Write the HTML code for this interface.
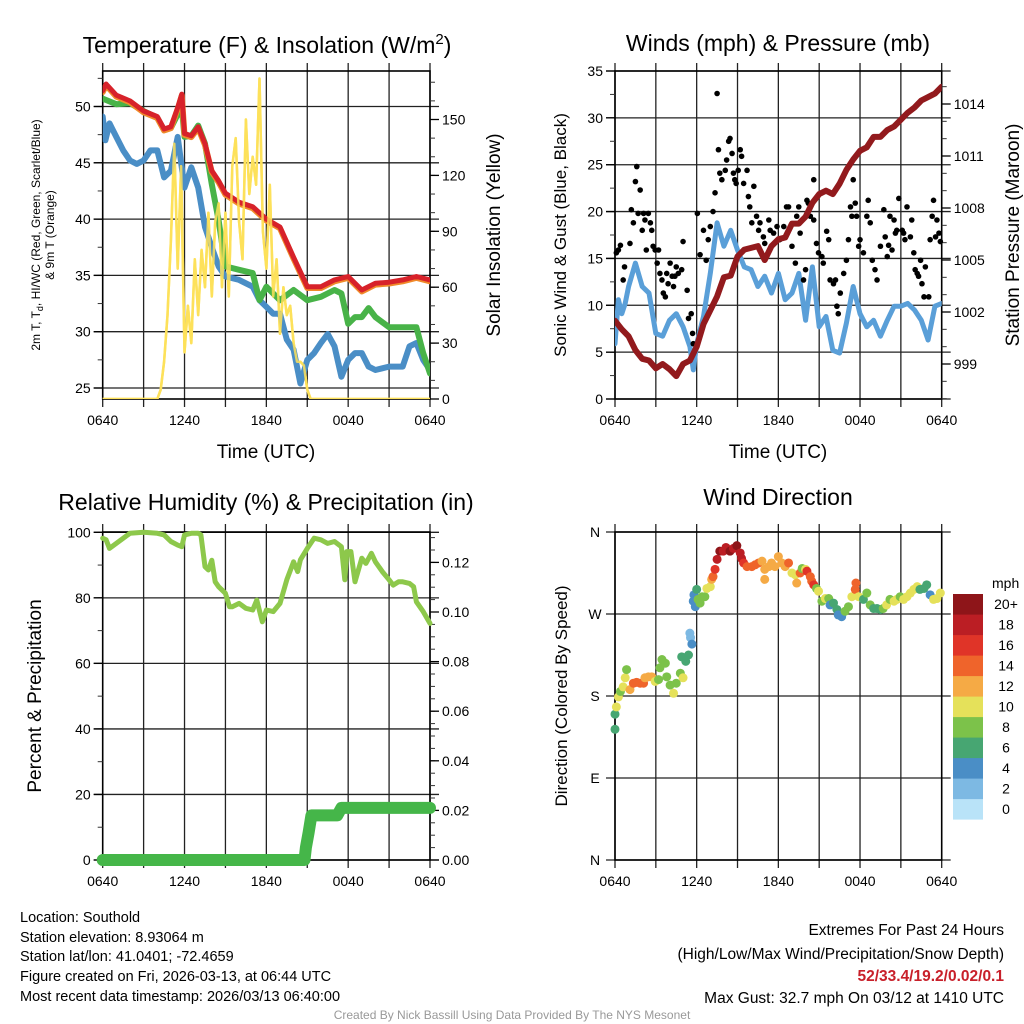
<!DOCTYPE html>
<html><head><meta charset="utf-8"><style>
html,body{margin:0;padding:0;background:#fff;}
svg{display:block;font-family:"Liberation Sans",Arial,sans-serif;}
</style></head><body>
<svg id="chart" width="1024" height="1024" viewBox="0 0 1024 1024" xmlns="http://www.w3.org/2000/svg">
<rect width="1024" height="1024" fill="#fff"/>
<g id="g"></g>
<g font-size="23" text-anchor="middle" fill="#000">
 <text x="267" y="53">Temperature (F) &amp; Insolation (W/m<tspan dy="-9" font-size="15">2</tspan><tspan dy="9">)</tspan></text>
 <text x="778" y="51">Winds (mph) &amp; Pressure (mb)</text>
 <text x="266" y="510">Relative Humidity (%) &amp; Precipitation (in)</text>
 <text x="778" y="505">Wind Direction</text>
</g>
<g font-size="19" text-anchor="middle">
 <text x="266" y="458">Time (UTC)</text>
 <text x="778" y="458">Time (UTC)</text>
 <text transform="translate(500,235) rotate(-90)">Solar Insolation (Yellow)</text>
 <text transform="translate(1019,235) rotate(-90)">Station Pressure (Maroon)</text>
 <text transform="translate(41,696) rotate(-90)">Percent &amp; Precipitation</text>
</g>
<g font-size="17" text-anchor="middle">
 <text transform="translate(566,235) rotate(-90)">Sonic Wind &amp; Gust (Blue, Black)</text>
 <text transform="translate(567,696) rotate(-90)">Direction (Colored By Speed)</text>
</g>
<g font-size="12" text-anchor="middle">
 <text transform="translate(40,235) rotate(-90)">2m T, T<tspan font-size="9" dy="3">d</tspan><tspan dy="-3">, HI/WC (Red, Green, Scarlet/Blue)</tspan></text>
 <text transform="translate(54,235) rotate(-90)">&amp; 9m T (Orange)</text>
</g>
<g font-size="14.5" fill="#000">
 <text x="20" y="922">Location: Southold</text>
 <text x="20" y="942">Station elevation: 8.93064 m</text>
 <text x="20" y="961">Station lat/lon: 41.0401; -72.4659</text>
 <text x="20" y="981">Figure created on Fri, 2026-03-13, at 06:44 UTC</text>
 <text x="20" y="1001">Most recent data timestamp: 2026/03/13 06:40:00</text>
</g>
<g font-size="15.5" text-anchor="end">
 <text x="1004" y="935">Extremes For Past 24 Hours</text>
 <text x="1004" y="959">(High/Low/Max Wind/Precipitation/Snow Depth)</text>
 <text x="1004" y="981" fill="#c8202a" font-weight="bold">52/33.4/19.2/0.02/0.1</text>
 <text x="1004" y="1003">Max Gust: 32.7 mph On 03/12 at 1410 UTC</text>
</g>
<text x="512" y="1019" font-size="12" fill="#999" text-anchor="middle">Created By Nick Bassill Using Data Provided By The NYS Mesonet</text>
</svg>
<script>
// ---------- data ----------
const tempT=[0,0.25,1,2,3,4,4.5,5,5.5,5.8,6,6.5,7,7.5,8,8.5,9,10,11,12,13,14,15,16,17,18,18.5,19,20,21,22,23,24];
const tempV=[51.4,52.0,51.0,50.5,49.6,49.1,48.0,48.2,49.9,51.1,47.6,47.4,48.2,46.7,44.3,43.4,42.3,41.5,41.1,40.0,39.3,36.6,34.0,34.0,34.6,34.9,34.3,33.7,34.3,34.4,34.6,34.9,34.6];
const hiT=[0,1,2,3,4,4.5,5,5.5,5.8,6,6.5,7,7.5,8,8.5,9,10,11,11.5,12,13,14,15,16,17,17.5,18,18.5,19,19.5,20,21,22,23,23.5,24];
const hiV=[50.7,50.2,50.3,49.6,49.0,47.9,48.1,49.3,49.9,47.3,47.4,48.3,46.7,43.1,39.9,35.8,35.5,35.2,32.8,34.0,32.8,33.7,32.8,33.1,33.7,33.4,30.7,31.3,31.3,32.1,31.3,30.4,30.4,30.4,28.1,26.3];
const dewT=[0,0.2,0.5,1,1.5,2,2.5,3,3.5,4,4.5,5,5.5,5.7,6,6.5,7,7.5,8,8.5,9,10,11,11.5,12,12.5,13,13.5,14,14.5,15,15.5,16,16.5,17,17.5,18,18.5,19,19.5,20,21,22,22.5,23,23.5,24];
const dewV=[49.1,47.0,48.5,47.3,46.1,45.2,44.9,45.2,46.1,46.1,43.7,44.3,47.3,45.5,42.8,44.6,42.8,39.3,37.5,35.8,34.9,34.6,34.0,32.8,32.2,31.6,31.6,29.3,28.4,25.4,27.5,28.1,29.0,29.8,28.7,26.0,27.5,28.1,28.1,26.9,26.6,26.9,26.9,28.7,29.0,27.5,26.6];
const solT=[0,4,4.25,4.5,4.75,5,5.25,5.5,5.75,6,6.25,6.5,6.75,7,7.25,7.5,7.75,8,8.25,8.5,8.75,9,9.25,9.5,9.75,10,10.25,10.5,10.75,11,11.25,11.5,11.75,12,12.25,12.5,12.75,13,13.25,13.5,13.75,14,14.25,14.5,14.75,15,15.25,24];
const solV=[0,0,5,20,45,85,137,70,125,25,50,30,75,45,80,60,100,55,95,105,60,100,55,125,140,95,75,150,110,130,115,172,90,70,115,55,75,35,60,45,50,30,20,20,18,5,0,0];
const presT=[0,0.5,1,1.5,2,2.5,3,3.5,4,4.5,5,5.5,6,6.5,7,7.5,8,8.5,9,9.5,10,10.5,11,11.5,12,12.5,13,13.5,14,14.5,15,15.5,16,16.5,17,17.5,18,18.5,19,19.5,20,20.5,21,21.5,22,22.5,23,23.5,24];
const presV=[1001.5,1001.0,1000.6,999.8,999.3,999.2,998.75,999.0,998.7,998.3,999.0,999.2,1000.0,1001.3,1002.1,1002.9,1004.0,1004.1,1005.2,1005.6,1005.7,1005.8,1005.0,1005.8,1006.2,1006.3,1007.1,1007.1,1007.5,1008.3,1008.8,1009.0,1008.8,1009.4,1010.2,1010.8,1011.3,1011.5,1012.1,1012.1,1012.5,1012.7,1013.1,1013.5,1013.8,1014.2,1014.4,1014.6,1015.0];
const windT=[0,0.25,0.5,0.75,1,1.5,2,2.5,3,3.5,4,4.5,5,5.5,5.75,6,6.5,7,7.5,8,8.5,9,9.5,10,10.5,11,11.5,12,12.5,13,13.5,14,14.5,15,15.5,16,16.5,17,17.5,18,18.5,19,19.5,20,20.5,21,21.5,22,22.5,23,23.5,24];
const windV=[5.9,10.6,9.1,10.2,12.0,14.5,12.0,11.3,7.0,6.7,8.4,9.1,7.7,5.6,3.1,5.9,8.8,13.4,18.8,16.3,18.0,15.9,14.1,13.8,12.0,13.1,11.3,13.4,10.6,11.3,13.4,8.4,14.1,7.7,8.8,5.2,4.9,8.1,12.0,9.1,7.7,8.4,6.7,8.4,9.9,9.9,10.2,9.5,8.4,6.3,9.9,10.2];
const gustT=[0.1,0.25,0.4,0.7,0.6,1.1,1.2,1.35,1.5,1.6,1.7,1.85,2.0,2.1,2.2,2.3,2.45,2.6,2.7,2.8,2.95,3.1,3.2,3.3,3.45,3.55,3.7,3.8,3.9,4.05,4.2,4.3,4.4,4.5,4.65,4.9,5.0,5.3,5.4,5.6,5.7,5.75,6.05,6.25,6.5,6.7,6.85,7.0,7.2,7.35,7.5,7.6,7.7,7.85,8.1,8.2,8.35,8.45,8.6,8.7,8.8,8.9,9.05,9.2,9.3,9.45,9.7,9.8,9.9,10.2,10.05,10.4,10.55,10.65,10.9,11.0,11.3,11.4,11.65,11.9,12.1,12.4,12.6,12.75,13.0,13.25,13.35,13.5,13.6,13.85,14.0,14.1,14.2,14.35,14.6,14.6,14.8,14.95,15.2,15.3,15.55,15.7,15.8,16.05,16.2,16.3,16.4,16.55,16.8,17.0,17.15,17.3,17.4,17.5,17.65,17.75,17.9,18.0,18.25,18.5,18.6,18.75,18.9,19.1,19.25,19.5,19.75,19.85,20.0,20.1,20.2,20.35,20.5,20.6,20.7,20.85,21.1,21.2,21.3,21.45,21.7,21.8,21.95,22.05,22.2,22.3,22.45,22.55,22.7,22.8,23.05,23.15,23.3,23.4,23.55,23.65,23.8,23.9];
const gustV=[15.6,15.9,16.4,14.1,12.7,16.6,20.2,18.8,23.2,24.8,19.8,22.3,18.0,19.8,19.1,15.9,19.8,18.8,18.0,16.3,15.9,14.5,15.9,13.4,12.7,11.3,10.9,13.4,12.3,14.5,13.1,12.0,13.1,14.1,13.4,13.8,16.8,11.6,8.6,9.1,7.0,5.9,19.8,15.4,18.0,14.8,17.0,18.4,20.0,22.0,32.6,26.6,24.1,23.4,24.4,25.5,27.5,27.8,26.2,24.1,23.4,23.0,24.4,26.6,25.9,23.0,24.4,21.6,20.5,22.7,18.8,19.5,18.0,18.8,17.3,16.6,19.1,18.0,17.7,18.4,17.0,18.4,20.5,20.5,16.3,14.5,19.5,20.5,17.7,12.7,13.8,21.2,20.9,19.5,19.1,23.4,16.6,15.6,15.2,14.5,17.9,17.0,12.7,12.3,12.7,9.9,9.1,11.3,13.4,14.8,17.0,20.5,19.5,23.4,20.9,19.5,16.3,17.0,15.6,19.5,21.2,18.8,14.8,13.8,12.7,16.3,20.2,17.3,15.2,16.4,19.5,15.9,19.1,17.7,18.0,21.4,18.0,17.7,17.0,20.5,17.3,19.1,15.6,13.8,13.4,13.1,14.8,12.3,10.9,14.1,10.9,17.0,19.5,21.2,17.3,19.1,17.7,16.8];
const rhT=[0,0.25,0.5,1,1.5,2,3,4,4.5,5,5.5,5.8,6,6.5,7,7.2,7.5,7.75,8,8.25,8.5,9,9.3,9.5,10,10.5,11,11.3,11.7,12,12.5,13,13.5,14,14.3,14.5,15,15.5,16,16.5,17,17.5,17.75,17.9,18.2,18.5,19,19.3,19.7,20,20.5,21,21.3,21.7,22,22.5,22.8,23,23.5,24];
const rhV=[98.2,97.7,95.1,96.6,98.2,99.7,100,99.7,99.2,97.2,96.1,95.6,99.2,99.7,99.7,99.2,89.5,88.5,91.5,84.9,83.4,81.4,77.3,77.3,78.3,76.8,76.3,79.3,72.7,76.3,75.8,78.3,85.5,91.0,88.0,91.6,95.1,98.2,97.7,96.6,97.2,95.6,85.5,94.1,94.1,84.9,92.1,90.5,93.6,91.0,88.0,85.5,83.9,84.9,84.9,84.4,83.4,78.8,75.8,72.2];
const prT=[0,14.8,14.9,15.1,15.3,17.2,17.5,24];
const prV=[0,0,0.005,0.011,0.018,0.018,0.021,0.021];
const dirT=[0,0,0.1,0.25,0.4,0.6,0.75,0.85,1.1,1.35,1.6,1.85,2.1,2.2,2.45,2.7,2.95,3.2,3.3,3.45,3.7,3.8,4.05,4.3,4.5,4.8,4.9,5.0,5.2,5.4,5.5,5.55,5.65,5.75,5.8,5.9,6.0,6.1,6.25,6.4,6.6,6.75,7.0,7.1,7.2,7.35,7.5,7.7,7.95,8.15,8.45,8.7,8.95,9.2,9.3,9.45,9.7,10.05,10.3,10.55,10.8,11.0,11.0,11.3,11.5,11.75,12.0,12.25,12.5,12.75,13.0,13.25,13.35,13.6,13.75,14.0,14.1,14.35,14.45,14.6,14.8,14.95,15.2,15.45,15.7,15.8,16.05,16.3,16.4,16.65,16.9,17.15,17.4,17.65,17.7,17.9,18.25,18.5,18.75,19.0,19.25,19.5,19.7,19.95,20.2,20.5,20.7,20.95,21.2,21.45,21.7,21.95,22.2,22.4,22.7,22.9,23.15,23.4,23.65,23.9];
const dirV=[143.5,160,168,179,185,190,200,209,187,194,195,194,194,200,201,201,196,198,211,220,216,201,192,183,194,205,223,200,218,225,249,244,237,284,291,278,297,286,282,289,289,298,300,308,311,319,330,339,339,343,339,342,345,337,331,326,322,322,324,326,328,319,308,322,326,322,333,326,322,326,315,313,304,315,320,319,317,311,306,302,298,295,284,287,287,280,282,275,269,267,273,278,289,297,304,289,286,293,280,276,276,275,276,280,286,284,286,289,286,289,293,297,300,297,298,302,291,286,287,293];
const dirS=[6,6,10,10,9,10,10,8,12,14,14,14,14,12,12,12,10,8,8,8,8,8,8,10,8,8,6,10,6,6,2,2,4,4,4,4,6,8,8,8,8,10,10,12,14,16,18,20,18,18,20,18,20,18,18,16,14,14,14,14,12,12,12,12,12,12,12,12,12,14,10,10,12,14,8,10,16,14,14,16,8,10,8,10,8,4,6,6,4,4,8,8,10,14,14,10,6,8,8,6,6,6,8,10,8,10,10,8,10,10,10,10,10,6,6,6,4,10,10,10];
const speedColors=["#b9e3f8","#7db9e3","#4a8ec6","#47a672","#7cc24a","#e5e15a","#f5aa45","#ef642b","#e03428","#bb1e24","#8e1519"];
const speedLabels=["0","2","4","6","8","10","12","14","16","18","20+"];
const hourLabels=["0640","1240","1840","0040","0640"];
const tempTicks=[25,30,35,40,45,50];
const solarTicks=[0,30,60,90,120,150];
const windTicks=[0,5,10,15,20,25,30,35];
const presTicks=[999,1002,1005,1008,1011,1014];
const rhTicks=[0,20,40,60,80,100];
const prTicks=[0,0.02,0.04,0.06,0.08,0.10,0.12];
const dirLabels=["N","E","S","W","N"];

// ---------- drawing ----------
const NS="http://www.w3.org/2000/svg";
const root=document.getElementById('g');
function el(tag,attrs,parent){const e=document.createElementNS(NS,tag);for(const k in attrs)e.setAttribute(k,attrs[k]);(parent||root).appendChild(e);return e;}
const P1={x0:102.7,x1:430,y0:71,y1:399},P2={x0:615,x1:941.7,y0:71,y1:399},P3={x0:102.7,x1:430,y0:532,y1:860},P4={x0:615,x1:941.7,y0:532,y1:860};
const xs=(p)=>(t)=>p.x0+t/24*(p.x1-p.x0);
const lin=(v0,y0,v1,y1)=>(v)=>y0+(v-v0)*(y1-y0)/(v1-v0);
const yT=lin(25,388,50,106.5), ySo=lin(0,399,150,119.5);
const yW=lin(0,399,35,71), yP=lin(999,364,1014,104);
const yRH=lin(0,860,100,532.3), yPr=lin(0,860,0.12,562.4);
const yD=lin(0,860,360,532);

function frame(p,name,hticks,yf){
  const g=el('g',{});  
  const X=xs(p);
  for(let h=0;h<=24;h+=3){const x=X(h);
    el('line',{x1:x,y1:p.y0-8,x2:x,y2:p.y1+8,stroke:'#222','stroke-width':1.3},g);
  }
  hticks.forEach(v=>{const y=yf(v);el('line',{x1:p.x0-9,y1:y,x2:p.x1+9,y2:y,stroke:'#222','stroke-width':1.3},g);});
  el('rect',{x:p.x0,y:p.y0,width:p.x1-p.x0,height:p.y1-p.y0,fill:'none',stroke:'#000','stroke-width':1.6},g);
  hourLabels.forEach((s,i)=>{const t=el('text',{x:X(i*6),y:p.y1+26,'font-size':14,'text-anchor':'middle'},g);t.textContent=s;
    });
  return g;
}
function yAxis(p,ticks,yf,fmt,side,minors){
  const g=el('g',{});
  const xe=side==='l'?p.x0:p.x1, dir=side==='l'?-1:1;
  minors.forEach(v=>{const y=yf(v);el('line',{x1:xe,y1:y,x2:xe+dir*5,y2:y,stroke:'#333','stroke-width':1},g);});
  ticks.forEach(v=>{const y=yf(v);el('line',{x1:xe,y1:y,x2:xe+dir*9,y2:y,stroke:'#000','stroke-width':1.3},g);
    const t=el('text',{x:xe+dir*12,y:y+5,'font-size':14,'text-anchor':side==='l'?'end':'start'},g);t.textContent=fmt(v);
    });
}
function range(a,b,s){const r=[];for(let v=a;v<=b+1e-9;v+=s)r.push(+v.toFixed(4));return r;}
function line(ts,vs,X,Y,color,w,name,clip){
  const pts=ts.map((t,i)=>X(t).toFixed(1)+','+Y(vs[i]).toFixed(1)).join(' ');
  const e=el('polyline',{points:pts,fill:'none',stroke:color,'stroke-width':w,'stroke-linejoin':'round','stroke-linecap':'round'});
  if(clip)e.setAttribute('clip-path',clip);
  return e;
}
// clip paths
const defs=el('defs',{});
[P1,P2,P3,P4].forEach((p,i)=>{const c=el('clipPath',{id:'c'+i},defs);el('rect',{x:p.x0,y:p.y0,width:p.x1-p.x0,height:p.y1-p.y0},c);});

// Panel 1
frame(P1,'temperature',tempTicks,yT);
yAxis(P1,tempTicks,yT,v=>v,'l',range(25,52.5,2.5));
yAxis(P1,solarTicks,ySo,v=>v,'r',range(0,170,10));
const X1=xs(P1);
line(solT,solV,X1,ySo,'#fde15a',2.5,'solar-insolation-line','url(#c0)');
line(dewT,dewV,X1,yT,'#4a8ec6',6,'dewpoint-line','url(#c0)');
line(hiT,hiV,X1,yT,'#48b348',6,'heat-index-line','url(#c0)');
line(tempT,tempV.map(v=>v-0.12),X1,yT,'#f08a2a',6,'9m-temperature-line','url(#c0)');
line(tempT,tempV,X1,yT,'#d7222a',5,'temperature-line','url(#c0)');
line(solT,solV,X1,ySo,'#fde15a',2.5,'solar-insolation-line-top','url(#c0)').setAttribute('opacity','0.85');

// Panel 2
frame(P2,'winds',windTicks,yW);
yAxis(P2,windTicks,yW,v=>v,'l',range(0,35,2.5));
yAxis(P2,presTicks,yP,v=>v,'r',range(997,1015,1));
const X2=xs(P2);
line(windT,windV,X2,yW,'#5a9fd8',5,'sustained-wind-line','url(#c1)');
gustT.forEach((t,i)=>{const c=el('circle',{cx:X2(t),cy:yW(gustV[i]),r:2.8,fill:'#000'});
  });
line(presT,presV,X2,yP,'#921a1d',6,'pressure-line','url(#c1)');

// Panel 3
frame(P3,'humidity',rhTicks,yRH);
yAxis(P3,rhTicks,yRH,v=>v,'l',range(0,100,10));
yAxis(P3,prTicks,yPr,v=>v.toFixed(2),'r',range(0,0.13,0.005));
const X3=xs(P3);
line(rhT,rhV,X3,yRH,'#8dc84b',5,'humidity-line');
line(prT,prV,X3,yPr,'#45b649',12,'precipitation-line');

// Panel 4
frame(P4,'wind-direction',[0,90,180,270,360],yD);
{const g=el('g',{});[0,90,180,270,360].forEach((d,i)=>{const t=el('text',{x:P4.x0-20,y:yD(d)+5,'font-size':14,'text-anchor':'middle'},g);t.textContent=dirLabels[i];
  });}
const X4=xs(P4);
dirT.forEach((t,i)=>{const b=Math.min(10,Math.floor(dirS[i]/2));
  const c=el('circle',{cx:X4(t),cy:yD(dirV[i]),r:4.5,fill:speedColors[b]});
  });
// color bar
{const g=el('g',{});
 const t0=el('text',{x:992,y:588,'font-size':14},g);t0.textContent='mph';
 for(let i=0;i<11;i++){const y=594+(10-i)*20.5;
  el('rect',{x:953,y:y,width:30,height:20.6,fill:speedColors[i]},g);
  const t=el('text',{x:1006,y:y+15,'font-size':14,'text-anchor':'middle'},g);t.textContent=speedLabels[i];}
}
</script>
</body></html>
